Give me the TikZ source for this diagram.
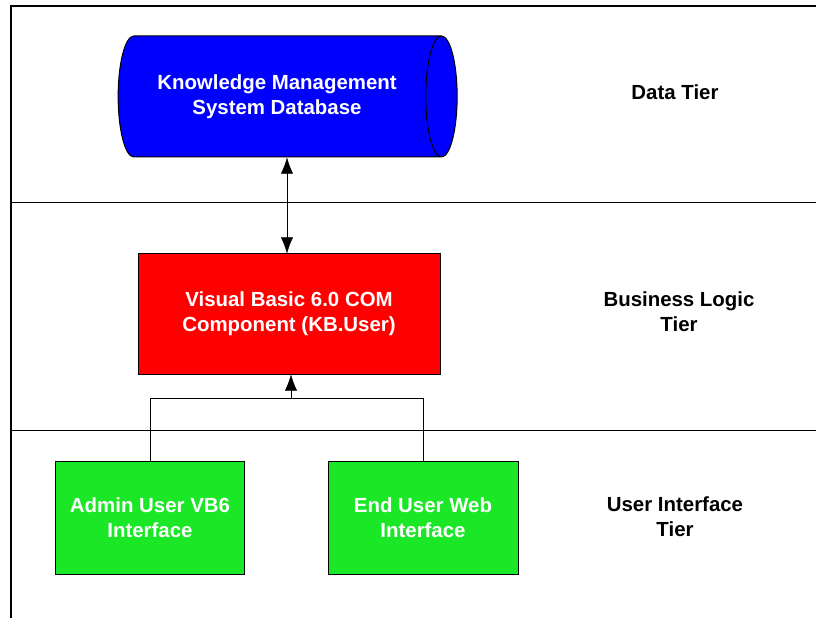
\documentclass[tikz,border=0pt]{standalone}
\usepackage{fontspec}
\setmainfont{Liberation Sans}
\usetikzlibrary{shapes.geometric,arrows.meta}
\definecolor{dbblue}{RGB}{0,0,255}
\definecolor{comred}{RGB}{255,0,0}
\definecolor{uigreen}{RGB}{26,232,38}
\begin{document}
\begin{tikzpicture}[x=1bp, y=-1bp, >={Latex[length=16bp,width=12bp]},
    box/.style={draw, line width=1bp, text=white, align=center,
        font=\fontsize{20.5}{25}\selectfont\bfseries},
    tier/.style={align=center, font=\fontsize{20.5}{25}\selectfont\bfseries}]
\useasboundingbox (0,0) rectangle (816,618);
% frame and tier lines
\draw[line width=1.5bp] (11,618)--(11,6)--(816,6);
\draw (11,202)--(816,202);
\draw (11,430)--(816,430);
% tiers
\node[box, cylinder, shape aspect=0.62, fill=dbblue, minimum height=339bp, minimum width=121bp] (db) at (277,96.5){Knowledge Management\\System Database};
\node[box, fill=comred, minimum width=302bp, minimum height=120bp] (vb) at (289,314){Visual Basic 6.0 COM\\Component (KB.User)};
\node[box, fill=uigreen, minimum width=188bp, minimum height=113bp] (adm) at (150,517.5){Admin User VB6\\Interface};
\node[box, fill=uigreen, minimum width=190bp, minimum height=113bp] (web) at (423,517.5){End User Web\\Interface};
\node[tier] (dt) at (675,92){Data Tier};
\node[tier] (blt) at (679,312){Business Logic\\Tier};
\node[tier] (uit) at (675,517){User Interface\\Tier};
% connectors
\draw[<->] (db.south -| 287,0) -- (vb.north -| 287,0);
\coordinate (jn) at (291,398);
\draw (adm.north) |- (jn);
\draw (web.north) |- (jn);
\draw[->] (jn) -- (jn |- vb.south);
\end{tikzpicture}
\end{document}
